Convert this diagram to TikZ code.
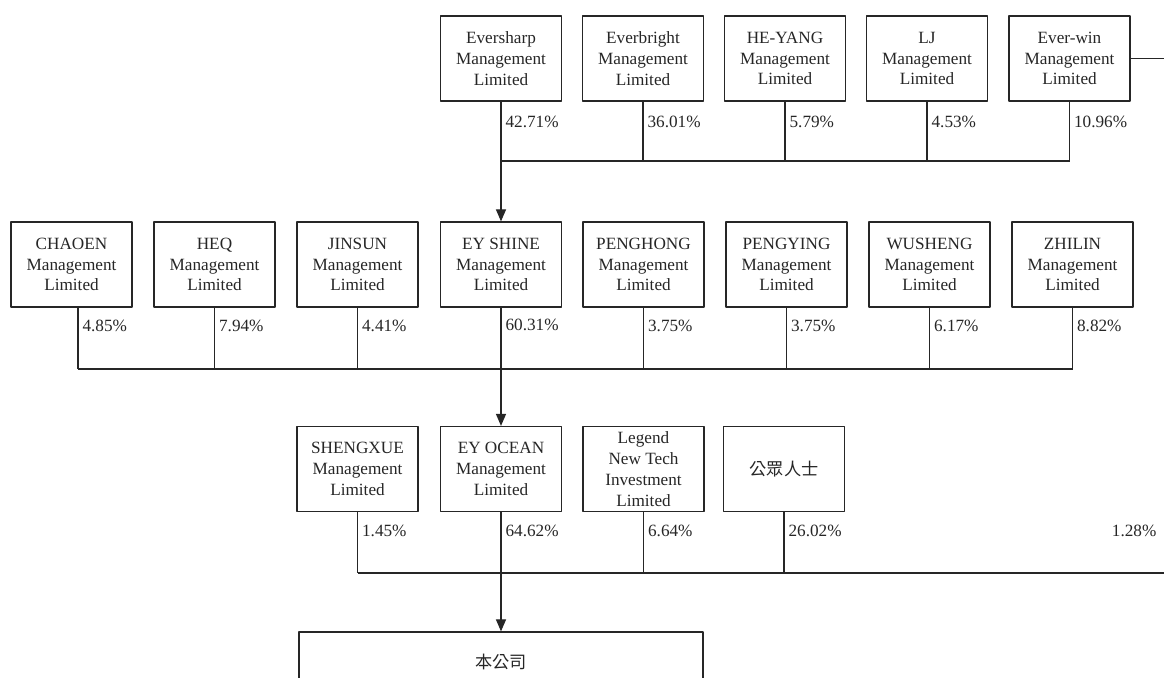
\documentclass[tikz,border=0pt]{standalone}
\usepackage{fontspec}
\setmainfont{Liberation Serif}
\newfontfamily\cjk{Noto Sans CJK TC}
\usetikzlibrary{arrows.meta}
\tikzset{
	org/.style={draw, rectangle, minimum width=60.5pt, minimum height=42.5pt, inner sep=0pt, align=center, font=\fontsize{8.6}{10.4}\selectfont},
	pct/.style={right, inner sep=2pt, font=\fontsize{8.6}{10.4}\selectfont},
}
\begin{document}
\begin{tikzpicture}[x=0.5pt, y=-0.5pt, >={Triangle[length=6pt,width=5pt]}, line width=0.6pt, color=black!85, line join=round]
	\def\rowA{58.5} \def\rowB{264.5} \def\rowC{469} % box centres
	\def\busA{161} \def\busB{369} \def\busC{573}
	\clip (0,0) rectangle (1164,678);
	\coordinate (busA) at (0,\busA);
	\coordinate (busB) at (0,\busB);
	\coordinate (busC) at (0,\busC);
	\coordinate (rim) at (1164,0);
	% top row
	\node[org] (eversharp) at (501,\rowA) {Eversharp\\Management\\Limited};
	\node[org] (everbright) at (643,\rowA) {Everbright\\Management\\Limited};
	\node[org] (heyang) at (785,\rowA) {HE-YANG\\Management\\Limited};
	\node[org] (lj) at (927,\rowA) {LJ\\Management\\Limited};
	\node[org] (everwin) at (1069.5,\rowA) {Ever-win\\Management\\Limited};
	% middle row
	\node[org] (chaoen) at (71.5,\rowB) {CHAOEN\\Management\\Limited};
	\node[org] (heq) at (214.5,\rowB) {HEQ\\Management\\Limited};
	\node[org] (jinsun) at (357.5,\rowB) {JINSUN\\Management\\Limited};
	\node[org] (eyshine) at (501,\rowB) {EY SHINE\\Management\\Limited};
	\node[org] (penghong) at (643.5,\rowB) {PENGHONG\\Management\\Limited};
	\node[org] (pengying) at (786.5,\rowB) {PENGYING\\Management\\Limited};
	\node[org] (wusheng) at (929.5,\rowB) {WUSHENG\\Management\\Limited};
	\node[org] (zhilin) at (1072.5,\rowB) {ZHILIN\\Management\\Limited};
	\coordinate (chaoenstem) at ([xshift=3.25pt]chaoen.south);
	% third row
	\node[org] (shengxue) at (357.5,\rowC) {SHENGXUE\\Management\\Limited};
	\node[org] (eyocean) at (501,\rowC) {EY OCEAN\\Management\\Limited};
	\node[org] (legend) at (643.5,\rowC) {Legend\\New Tech\\Investment\\Limited};
	\node[org] (public) at (784,\rowC) {\cjk 公眾人士};
	\node[org, minimum width=202pt, minimum height=30pt] (company) at (501,662) {\cjk 本公司};
	% top row holdings
	\draw[->] (eversharp.south) -- (eyshine.north) node[pct, pos=0.17] (pA1) {42.71\%};
	\draw (everbright.south) -- (everbright.south |- busA) node[pct, pos=0.35] (pA2) {36.01\%};
	\draw (heyang.south) -- (heyang.south |- busA) node[pct, pos=0.35] (pA3) {5.79\%};
	\draw (lj.south) -- (lj.south |- busA) node[pct, pos=0.35] (pA4) {4.53\%};
	\draw (everwin.south) -- (everwin.south |- busA) node[pct, pos=0.35] (pA5) {10.96\%};
	\draw (eversharp.south |- busA) -- (everwin.south |- busA);
	\draw (everwin.east) -- (everwin.east -| rim);
	% middle row holdings
	\draw (chaoenstem) -- (chaoenstem |- busB) node[pct, pos=0.3] (pB1) {4.85\%};
	\draw (heq.south) -- (heq.south |- busB) node[pct, pos=0.3] (pB2) {7.94\%};
	\draw (jinsun.south) -- (jinsun.south |- busB) node[pct, pos=0.3] (pB3) {4.41\%};
	\draw[->] (eyshine.south) -- (eyocean.north) node[pct, pos=0.15] (pB4) {60.31\%};
	\draw (penghong.south) -- (penghong.south |- busB) node[pct, pos=0.3] (pB5) {3.75\%};
	\draw (pengying.south) -- (pengying.south |- busB) node[pct, pos=0.3] (pB6) {3.75\%};
	\draw (wusheng.south) -- (wusheng.south |- busB) node[pct, pos=0.3] (pB7) {6.17\%};
	\draw (zhilin.south) -- (zhilin.south |- busB) node[pct, pos=0.3] (pB8) {8.82\%};
	\draw (chaoenstem |- busB) -- (zhilin.south |- busB);
	% third row holdings
	\draw (shengxue.south) -- (shengxue.south |- busC) node[pct, pos=0.31] (pC1) {1.45\%};
	\draw[->] (eyocean.south) -- (company.north) node[pct, pos=0.16] (pC2) {64.62\%};
	\draw (legend.south) -- (legend.south |- busC) node[pct, pos=0.31] (pC3) {6.64\%};
	\draw (public.south) -- (public.south |- busC) node[pct, pos=0.31] (pC4) {26.02\%};
	\node[pct, left] (pC5) at (1161,531) {1.28\%};
	\draw (shengxue.south |- busC) -- (rim |- busC);
\end{tikzpicture}
\end{document}
